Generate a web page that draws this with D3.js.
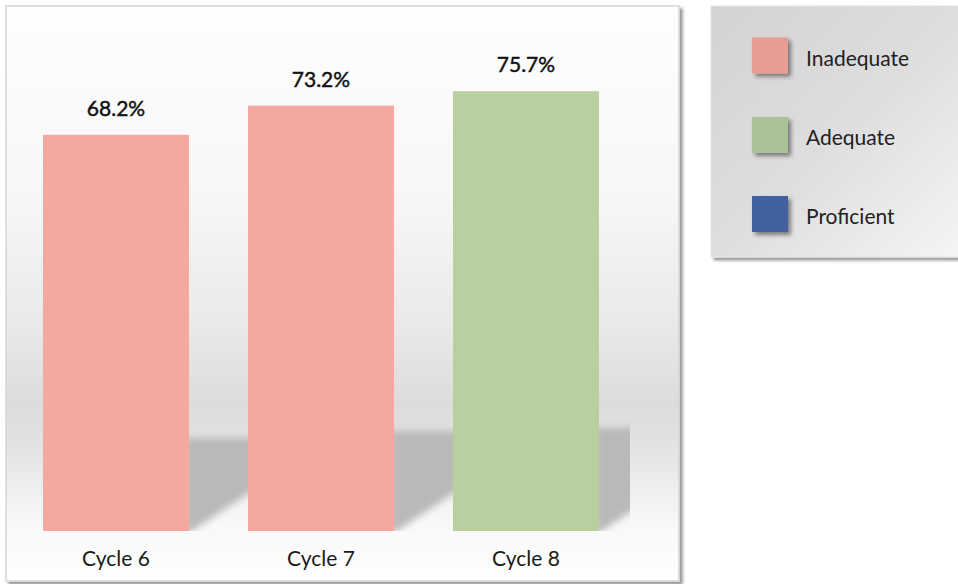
<!DOCTYPE html>
<html>
<head>
<meta charset="utf-8">
<script src="https://cdn.jsdelivr.net/npm/d3@7/dist/d3.min.js"></script>
<style>
  html, body { margin: 0; padding: 0; background: #ffffff; }
  svg { display: block; }
  text { font-family: Lato, "Open Sans", sans-serif; }
</style>
</head>
<body>
<svg id="chart" width="958" height="584"></svg>
<script>
// Share of ratings per review cycle
const categories = ["Cycle 6", "Cycle 7", "Cycle 8"];
const values = [68.2, 73.2, 75.7];
const levels = ["Inadequate", "Inadequate", "Adequate"];
const legendLevels = ["Inadequate", "Adequate", "Proficient"];

const barColor = { Inadequate: "#f5a89f", Adequate: "#b8cf9f", Proficient: "#3e62a0" };
const swatchColor = { Inadequate: "#e89d93", Adequate: "#abc297", Proficient: "#3f62a0" };

const svg = d3.select("#chart");
const defs = svg.append("defs");

// panel background: soft grey band behind the bar floor
const bg = defs.append("linearGradient").attr("id", "panelBg")
  .attr("x1", 0).attr("y1", 0).attr("x2", 0).attr("y2", 1);
[[0, "#fefefe"], [0.33, "#f7f7f7"], [0.56, "#e9e9e9"], [0.69, "#dcdcdc"],
 [0.76, "#e2e2e2"], [0.9, "#f8f8f8"], [1, "#ffffff"]]
  .forEach(([o, c]) => bg.append("stop").attr("offset", o).attr("stop-color", c));

const lg = defs.append("linearGradient").attr("id", "legendBg")
  .attr("x1", 0).attr("y1", 0).attr("x2", 1).attr("y2", 1);
[[0, "#d3d3d3"], [0.5, "#dedede"], [1, "#f6f6f6"]]
  .forEach(([o, c]) => lg.append("stop").attr("offset", o).attr("stop-color", c));

const panelShadow = defs.append("filter").attr("id", "panelShadow")
  .attr("x", "-5%").attr("y", "-5%").attr("width", "115%").attr("height", "115%");
panelShadow.append("feDropShadow").attr("dx", 3).attr("dy", 3)
  .attr("stdDeviation", 1.6).attr("flood-color", "#000").attr("flood-opacity", 0.4);

const swShadow = defs.append("filter").attr("id", "swShadow")
  .attr("x", "-30%").attr("y", "-30%").attr("width", "170%").attr("height", "170%");
swShadow.append("feDropShadow").attr("dx", 3).attr("dy", 3)
  .attr("stdDeviation", 2).attr("flood-color", "#000").attr("flood-opacity", 0.45);

const floorBlur = defs.append("filter").attr("id", "floorBlur")
  .attr("x", "-20%").attr("y", "-20%").attr("width", "140%").attr("height", "140%");
floorBlur.append("feGaussianBlur").attr("stdDeviation", 3.5);

// chart panel
svg.append("rect")
  .attr("x", 6).attr("y", 6).attr("width", 673).attr("height", 575)
  .attr("fill", "url(#panelBg)")
  .attr("stroke", "#d8d8d8").attr("stroke-width", 1.6)
  .attr("filter", "url(#panelShadow)");

// scales
const x = d3.scaleBand()
  .domain(categories)
  .range([12.25, 629.7])
  .paddingInner(0.288)
  .paddingOuter(0.15);

const y = d3.scaleLinear()
  .domain([0, 100])
  .range([531, -50]);

const rows = categories.map((c, i) => ({ cat: c, value: values[i], level: levels[i] }));

// plot clip for the floor shadows
defs.append("clipPath").attr("id", "plotClip")
  .append("rect").attr("x", 12).attr("y", 20).attr("width", 618).attr("height", 511);

const base = y(0);
svg.append("g").attr("clip-path", "url(#plotClip)")
  .append("g").attr("filter", "url(#floorBlur)")
  .selectAll("polygon").data(rows).join("polygon")
  .attr("fill", "#b9b9b9")
  .attr("points", d => {
    const r = x(d.cat) + x.bandwidth();
    const h = base - y(d.value);
    const top = base - 0.235 * h;
    return [[r - 4, base + 2], [r - 4, top], [r + 75, top], [r + 75, base - 48], [r, base + 2]]
      .map(p => p.join(",")).join(" ");
  });

// bars
svg.append("g").selectAll("rect").data(rows).join("rect")
  .attr("x", d => x(d.cat))
  .attr("y", d => y(d.value))
  .attr("width", x.bandwidth())
  .attr("height", d => base - y(d.value))
  .attr("fill", d => barColor[d.level]);

// value labels (medium weight)
svg.append("g").selectAll("text").data(rows).join("text")
  .attr("x", d => x(d.cat) + x.bandwidth() / 2)
  .attr("y", d => y(d.value) - 19)
  .attr("text-anchor", "middle")
  .attr("font-size", 21)
  .attr("font-weight", 400)
  .attr("fill", "#111")
  .attr("stroke", "#111")
  .attr("stroke-width", 0.45)
  .text(d => d.value.toFixed(1) + "%");

// category axis
const axis = svg.append("g")
  .attr("transform", `translate(0,${base})`)
  .call(d3.axisBottom(x).tickSize(0).tickPadding(0));
axis.select(".domain").remove();
axis.selectAll("text")
  .attr("dy", null)
  .attr("y", 35)
  .attr("font-size", 21)
  .attr("font-family", "Lato, sans-serif")
  .attr("fill", "#1a1a1a");

// legend panel
const legend = svg.append("g");
legend.append("rect")
  .attr("x", 711).attr("y", 6).attr("width", 262).attr("height", 251)
  .attr("fill", "url(#legendBg)")
  .attr("stroke", "#e4e4e4").attr("stroke-width", 1)
  .attr("filter", "url(#panelShadow)");

const item = legend.selectAll("g.item").data(legendLevels).join("g")
  .attr("class", "item")
  .attr("transform", (d, i) => `translate(752,${[37.5, 117, 196][i]})`);

item.append("rect")
  .attr("width", 36).attr("height", 36)
  .attr("fill", d => swatchColor[d])
  .attr("filter", "url(#swShadow)");

item.append("text")
  .attr("x", 54).attr("y", 28)
  .attr("font-size", 21)
  .attr("fill", "#222")
  .text(d => d);
</script>
</body>
</html>
